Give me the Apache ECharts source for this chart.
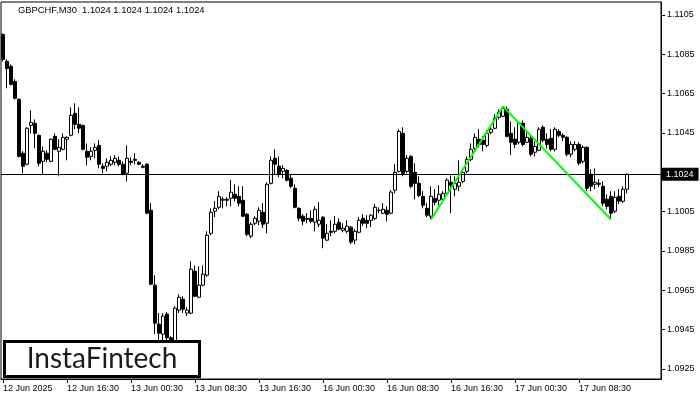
<!DOCTYPE html>
<html><head><meta charset="utf-8">
<script src="https://cdn.jsdelivr.net/npm/echarts@6/dist/echarts.min.js"></script>
<style>html,body{margin:0;padding:0;background:#fff}#c{width:700px;height:400px}</style>
</head><body><div id="c"></div>
<script>
// GBPCHF M30 candles (open, close, low, high)
const opens = [1.10951,1.10814,1.10789,1.10712,1.10621,1.10347,1.10291,1.10489,1.10499,1.10438,
1.10306,1.10347,1.10306,1.10433,1.10357,1.10367,1.10418,1.10438,1.10550,1.10494,
1.10489,1.10357,1.10331,1.10362,1.10387,1.10281,1.10281,1.10291,1.10301,1.10311,
1.10291,1.10245,1.10306,1.10316,1.10301,1.10281,1.10291,1.10057,1.09676,1.09478,
1.09427,1.09529,1.09409,1.09392,1.09549,1.09605,1.09534,1.09534,1.09747,1.09615,
1.09676,1.09727,1.09940,1.10052,1.10072,1.10108,1.10113,1.10118,1.10138,1.10128,
1.10108,1.10037,1.09925,1.09991,1.10001,1.10047,1.09991,1.10194,1.10321,1.10281,
1.10255,1.10260,1.10220,1.10169,1.10067,1.10027,1.10016,1.10016,1.09996,1.09986,
1.10022,1.09905,1.09950,1.09950,1.09996,1.09955,1.09950,1.09971,1.09905,1.09945,
1.10016,1.10006,1.10006,1.10016,1.10057,1.10042,1.10057,1.10042,1.10159,1.10255,
1.10448,1.10255,1.10331,1.10250,1.10194,1.10128,1.10067,1.10027,1.10118,1.10108,
1.10113,1.10143,1.10199,1.10164,1.10179,1.10204,1.10255,1.10316,1.10372,1.10418,
1.10413,1.10387,1.10453,1.10474,1.10530,1.10535,1.10570,1.10448,1.10418,1.10403,
1.10499,1.10403,1.10423,1.10352,1.10362,1.10479,1.10418,1.10423,1.10367,1.10458,
1.10438,1.10428,1.10342,1.10367,1.10392,1.10306,1.10377,1.10240,1.10189,1.10194,
1.10179,1.10113,1.10128,1.10052,1.10128,1.10103,1.10164];
const closes = [1.10824,1.10778,1.10697,1.10626,1.10331,1.10281,1.10474,1.10504,1.10448,1.10296,
1.10357,1.10316,1.10418,1.10367,1.10377,1.10428,1.10428,1.10540,1.10494,1.10474,
1.10367,1.10326,1.10357,1.10377,1.10291,1.10270,1.10301,1.10311,1.10321,1.10291,
1.10240,1.10321,1.10301,1.10311,1.10291,1.10276,1.10042,1.09681,1.09483,1.09432,
1.09519,1.09409,1.09392,1.09559,1.09615,1.09554,1.09549,1.09757,1.09620,1.09676,
1.09732,1.09930,1.10047,1.10067,1.10128,1.10113,1.10108,1.10149,1.10118,1.10093,
1.10027,1.09935,1.09986,1.10016,1.10057,1.09986,1.10189,1.10311,1.10291,1.10240,
1.10270,1.10210,1.10179,1.10072,1.10016,1.10001,1.10011,1.10001,1.10062,1.10006,
1.09915,1.09940,1.09945,1.09986,1.09961,1.09966,1.09976,1.09895,1.09950,1.10006,
1.09991,1.09991,1.10032,1.10072,1.10056,1.10062,1.10037,1.10149,1.10250,1.10458,
1.10245,1.10321,1.10179,1.10194,1.10133,1.10082,1.10032,1.10128,1.10098,1.10138,
1.10143,1.10210,1.10184,1.10194,1.10199,1.10250,1.10316,1.10367,1.10428,1.10392,
1.10392,1.10448,1.10469,1.10524,1.10555,1.10575,1.10433,1.10403,1.10392,1.10499,
1.10392,1.10428,1.10342,1.10382,1.10469,1.10413,1.10392,1.10367,1.10469,1.10438,
1.10428,1.10342,1.10392,1.10392,1.10296,1.10377,1.10169,1.10179,1.10199,1.10189,
1.10093,1.10077,1.10042,1.10123,1.10103,1.10164,1.10240];
const lows = [1.10814,1.10677,1.10692,1.10621,1.10326,1.10245,1.10286,1.10448,1.10372,1.10281,
1.10240,1.10301,1.10301,1.10362,1.10230,1.10362,1.10311,1.10433,1.10469,1.10448,
1.10362,1.10286,1.10311,1.10321,1.10270,1.10245,1.10255,1.10281,1.10286,1.10281,
1.10235,1.10204,1.10286,1.10291,1.10286,1.10270,1.10037,1.09676,1.09427,1.09361,
1.09351,1.09361,1.09341,1.09361,1.09534,1.09534,1.09519,1.09529,1.09615,1.09610,
1.09671,1.09718,1.09930,1.10022,1.10062,1.10067,1.10077,1.10077,1.10103,1.10077,
1.10022,1.09925,1.09915,1.09981,1.09981,1.09966,1.09940,1.10189,1.10240,1.10225,
1.10220,1.10204,1.10169,1.10067,1.10001,1.09981,1.09991,1.09991,1.09950,1.09971,
1.09864,1.09900,1.09925,1.09940,1.09955,1.09945,1.09940,1.09884,1.09884,1.09940,
1.09976,1.09966,1.09971,1.10006,1.10042,1.10037,1.10001,1.10037,1.10143,1.10250,
1.10230,1.10245,1.10169,1.10113,1.10123,1.10067,1.10022,1.10011,1.10082,1.10082,
1.10098,1.10133,1.10042,1.10128,1.10154,1.10194,1.10245,1.10306,1.10357,1.10377,
1.10357,1.10377,1.10443,1.10469,1.10519,1.10530,1.10428,1.10337,1.10372,1.10392,
1.10382,1.10398,1.10331,1.10331,1.10357,1.10403,1.10372,1.10357,1.10357,1.10428,
1.10408,1.10331,1.10326,1.10357,1.10286,1.10296,1.10154,1.10154,1.10164,1.10174,
1.10077,1.10062,1.10016,1.10042,1.10088,1.10093,1.10143];
const highs = [1.10956,1.10824,1.10799,1.10723,1.10626,1.10357,1.10479,1.10565,1.10519,1.10443,
1.10382,1.10362,1.10423,1.10448,1.10418,1.10448,1.10433,1.10580,1.10601,1.10580,
1.10491,1.10397,1.10377,1.10397,1.10413,1.10296,1.10321,1.10331,1.10337,1.10331,
1.10306,1.10387,1.10326,1.10347,1.10306,1.10291,1.10296,1.10093,1.09727,1.09534,
1.09534,1.09539,1.09417,1.09569,1.09630,1.09620,1.09564,1.09798,1.09777,1.09772,
1.09777,1.09950,1.10067,1.10103,1.10154,1.10123,1.10123,1.10210,1.10189,1.10179,
1.10179,1.10042,1.09996,1.10027,1.10072,1.10093,1.10199,1.10331,1.10367,1.10331,
1.10286,1.10265,1.10240,1.10189,1.10072,1.10037,1.10042,1.10057,1.10077,1.10098,
1.10027,1.09986,1.10006,1.10027,1.10016,1.09991,1.10006,1.09976,1.09961,1.10022,
1.10037,1.10032,1.10037,1.10088,1.10072,1.10093,1.10077,1.10159,1.10291,1.10469,
1.10479,1.10337,1.10337,1.10296,1.10230,1.10154,1.10093,1.10179,1.10164,1.10184,
1.10154,1.10220,1.10235,1.10230,1.10311,1.10265,1.10331,1.10397,1.10448,1.10469,
1.10433,1.10464,1.10489,1.10545,1.10570,1.10585,1.10585,1.10509,1.10479,1.10509,
1.10514,1.10453,1.10438,1.10408,1.10479,1.10489,1.10448,1.10469,1.10479,1.10469,
1.10448,1.10433,1.10408,1.10408,1.10403,1.10387,1.10382,1.10265,1.10270,1.10215,
1.10204,1.10138,1.10154,1.10154,1.10164,1.10179,1.10245];

// x axis tick labels (one every 16 bars)
const tickLabels = ["12 Jun 2025","12 Jun 16:30","13 Jun 00:30","13 Jun 08:30","13 Jun 16:30",
  "16 Jun 00:30","16 Jun 08:30","16 Jun 16:30","17 Jun 00:30","17 Jun 08:30"];
const tickStep = 16;
const emptySlots = 8;

// y axis tick labels
const yTicks = [1.0925,1.0945,1.0965,1.0985,1.1005,1.1045,1.1065,1.1085,1.1105];
const yMin = 1.09199, yMax = 1.11116;

const lastPrice = 1.1024;
const titleText = "GBPCHF,M30  1.1024 1.1024 1.1024 1.1024";

// double-top pattern line
const patternIdx = [107, 125, 152];
const patternVals = [1.1001, 1.10585, 1.1001];

const FONT = '"Liberation Sans", Arial, sans-serif';
const N = opens.length + emptySlots;
const cats = Array.from({length: N}, (_, i) => String(i));
const candles = opens.map((o, i) => [o, closes[i], lows[i], highs[i]]);
const pattern = new Array(N).fill(null);
patternIdx.forEach((k, j) => { pattern[k] = patternVals[j]; });
const showTick = (i) => i % tickStep === 0 && i / tickStep < tickLabels.length;

const chart = echarts.init(document.getElementById('c'));
chart.setOption({
  animation: false,
  backgroundColor: '#fff',
  title: {
    text: titleText, left: 18, top: 6, padding: 0,
    textStyle: {fontSize: 9.4, fontWeight: 'normal', color: '#000', fontFamily: FONT}
  },
  grid: {left: 1, right: 39, top: 2, bottom: 21, show: true, borderColor: '#000', borderWidth: 1},
  xAxis: {
    type: 'category', data: cats, boundaryGap: true,
    axisLine: {show: true, lineStyle: {color: '#000'}},
    axisTick: {show: true, alignWithLabel: true, interval: showTick, length: 4, lineStyle: {color: '#000'}},
    axisLabel: {
      interval: showTick, formatter: (v, i) => tickLabels[i / tickStep],
      align: 'left', color: '#000', fontSize: 9, fontFamily: FONT, margin: 5
    },
    splitLine: {show: false}
  },
  yAxis: {
    type: 'value', position: 'right', min: yMin, max: yMax, scale: true,
    splitLine: {show: false},
    axisLine: {show: true, lineStyle: {color: '#000'}},
    axisTick: {show: true, length: 4, customValues: yTicks, lineStyle: {color: '#000'}},
    axisLabel: {customValues: yTicks, formatter: v => v.toFixed(4), color: '#000', fontSize: 9, fontFamily: FONT, margin: 6}
  },
  graphic: [
    {type: 'rect', shape: {x: 4.5, y: 341.5, width: 195, height: 35},
     style: {fill: '#fff', stroke: '#000', lineWidth: 3}, z: 100},
    {type: 'text', x: 102, y: 359, z: 101,
     style: {text: 'InstaFintech', fill: '#1a1a1a', font: 'normal 28px Lato, "Open Sans", sans-serif',
             textAlign: 'center', textVerticalAlign: 'middle'}}
  ],
  series: [
    {
      type: 'candlestick', data: candles, barWidth: 3,
      itemStyle: {color: '#fff', color0: '#000', borderColor: '#000', borderColor0: '#000', borderWidth: 1},
      emphasis: {disabled: true},
      markLine: {
        symbol: 'none', silent: true, animation: false, precision: 5,
        lineStyle: {color: '#000', width: 1, type: 'solid'},
        label: {position: 'end', formatter: p => Number(p.value).toFixed(4), color: '#fff', backgroundColor: '#000',
                padding: [2, 5, 2, 5], fontSize: 9, fontFamily: FONT, distance: 0},
        emphasis: {disabled: true},
        data: [{yAxis: lastPrice}]
      }
    },
    {
      type: 'line', data: pattern, connectNulls: true, symbol: 'none', z: 5,
      lineStyle: {color: '#00ff00', width: 2}, emphasis: {disabled: true}
    }
  ]
});
</script></body></html>
